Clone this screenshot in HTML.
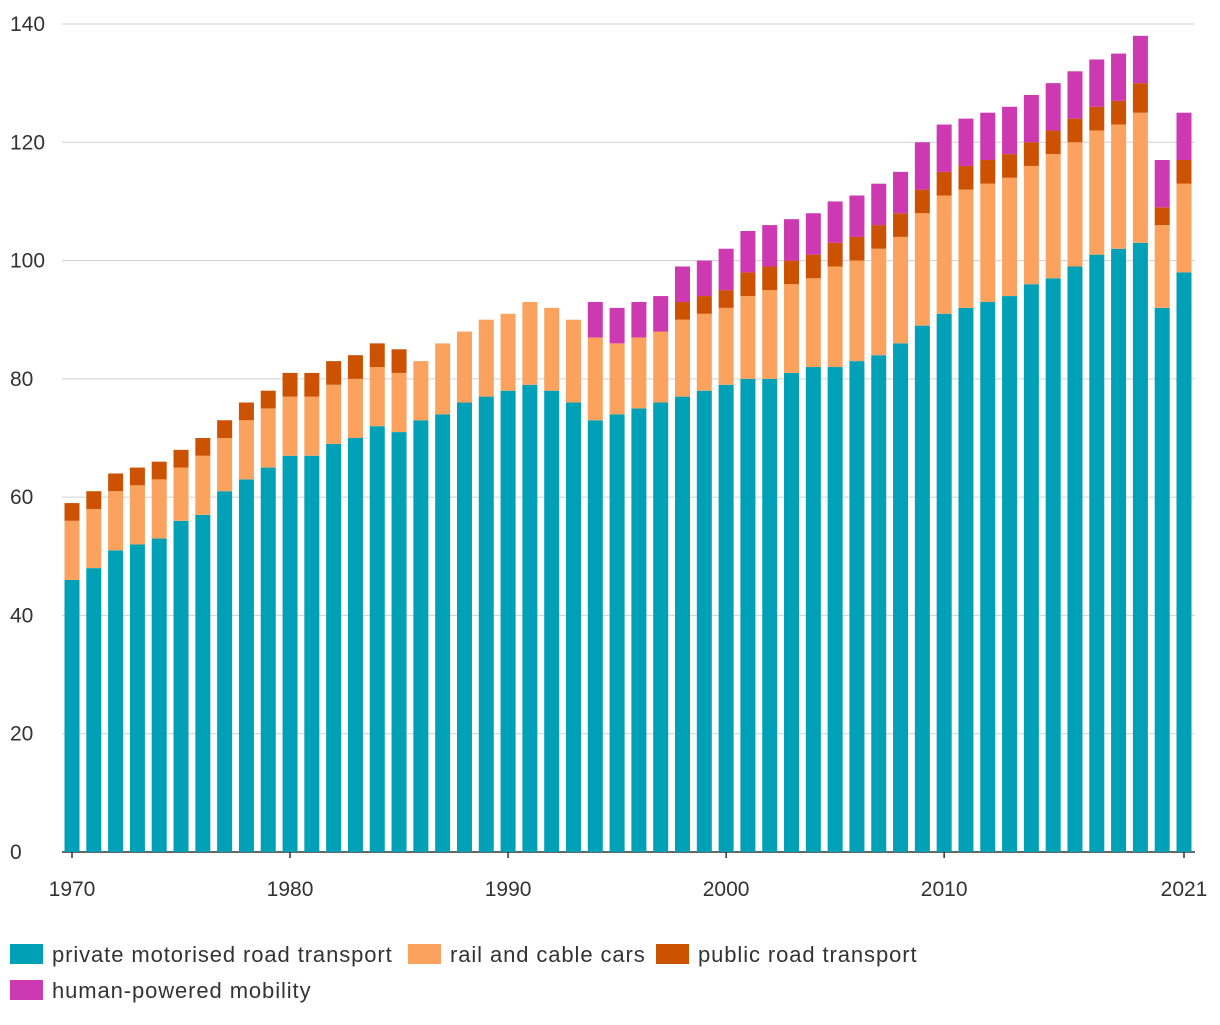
<!DOCTYPE html>
<html><head><meta charset="utf-8"><style>
body{margin:0;background:#fff;font-family:"Liberation Sans",sans-serif;}
svg text{font-family:"Liberation Sans",sans-serif;fill:#333;font-size:21px;}
svg text.leg{font-size:22px;letter-spacing:0.9px;}
</style></head><body>
<svg id="chart" width="1220" height="1020"></svg>
<script>
const years=[];for(let y=1970;y<=2021;y++)years.push(y);
const privateVals=[46,48,51,52,53,56,57,61,63,65,67,67,69,70,72,71,73,74,76,77,78,79,78,76,73,74,75,76,77,78,79,80,80,81,82,82,83,84,86,89,91,92,93,94,96,97,99,101,102,103,92,98];
const railTops=[56,58,61,62,63,65,67,70,73,75,77,77,79,80,82,81,83,86,88,90,91,93,92,90,87,86,87,88,90,91,92,94,95,96,97,99,100,102,104,108,111,112,113,114,116,118,120,122,123,125,106,113];
const publicTops=[59,61,64,65,66,68,70,73,76,78,81,81,83,84,86,85,83,86,88,90,91,93,92,90,87,86,87,88,93,94,95,98,99,100,101,103,104,106,108,112,115,116,117,118,120,122,124,126,127,130,109,117];
const humanTops=[59,61,64,65,66,68,70,73,76,78,81,81,83,84,86,85,83,86,88,90,91,93,92,90,93,92,93,94,99,100,102,105,106,107,108,110,111,113,115,120,123,124,125,126,128,130,132,134,135,138,117,125];
const yTicks=[0,20,40,60,80,100,120,140];
const xTickYears=[1970,1980,1990,2000,2010,2021];
const seriesNames=["private motorised road transport","rail and cable cars","public road transport","human-powered mobility"];
const colors=["#00a1b7","#fba35e","#cc5202","#cc39b0"];
const NS="http://www.w3.org/2000/svg",svg=document.getElementById('chart');
const X0=62,X1=1195,Y0=852,Y1=24;
const ys=v=>Y0-(v/140)*(Y0-Y1);
const xs=i=>72+i*(1184-72)/51;
function el(t,a,p){const e=document.createElementNS(NS,t);for(const k in a)e.setAttribute(k,a[k]);(p||svg).appendChild(e);return e;}
yTicks.forEach(v=>{
 const l=el('line',{x1:X0,x2:X1,y1:ys(v),y2:ys(v),stroke:v===0?'#333':'#d0d0d0','stroke-width':v===0?1.5:1});
 
 
 const t=el('text',{x:10,y:ys(v)+7});t.textContent=v;
 
 
});
years.forEach((yr,i)=>{
 const bounds=[0,privateVals[i],railTops[i],publicTops[i],humanTops[i]];
 for(let s=0;s<4;s++){
  if(bounds[s+1]>bounds[s]){
   const r=el('rect',{x:xs(i)-7.5,width:15,y:ys(bounds[s+1]),height:ys(bounds[s])-ys(bounds[s+1]),fill:colors[s]});
   
   
  }
 }
});
xTickYears.forEach(yr=>{
 const i=years.indexOf(yr);
 el('line',{x1:xs(i),x2:xs(i),y1:Y0,y2:Y0+6,stroke:'#333','stroke-width':1.5});
 const t=el('text',{x:xs(i),y:896,'text-anchor':'middle'});t.textContent=yr;
 
 
});
const legPos=[[10,954],[408,954],[656,954],[10,990]];
seriesNames.forEach((n,s)=>{
 const g=el('g',{});
 
 
 el('rect',{x:legPos[s][0],y:legPos[s][1]-10,width:33,height:20,fill:colors[s]},g);
 const t=el('text',{x:legPos[s][0]+42,y:legPos[s][1]+8,'class':'leg'},g);t.textContent=n;
});
</script>
</body></html>
